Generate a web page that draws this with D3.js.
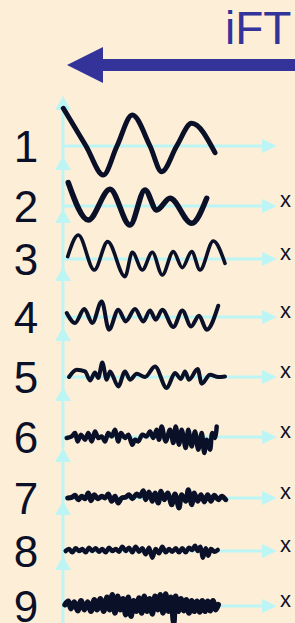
<!DOCTYPE html>
<html><head><meta charset="utf-8">
<script src="https://cdn.jsdelivr.net/npm/d3@7"></script>
<style>html,body{margin:0;padding:0;background:#fdeed8;overflow:hidden}</style>
</head><body><svg id="c" width="295" height="623"></svg>
<script>
// ---------- data ----------
const title = "iFT";
const rowLabels = ["1","2","3","4","5","6","7","8","9"];
const axisLabel = "x";
const showAxisLabel = [false,true,true,true,true,true,true,true,true];
// each wave: [position along x axis, amplitude]
const wave1 = [[0.3,37.7],[23,0],[40.3,-29],[54,0],[69.3,31],[87,0],[98.7,-25.7],[113.7,0],[128.7,22.7],[152,-6.7]];
const wave2 = [[5.3,23.3],[25.3,-14],[47,16.7],[67,-19],[82,16],[93.7,-4],[107,7.7],[128.7,-17.3],[143.7,7.7]];
const wave3 = [[4.7,2.4],[15.3,24],[31.3,-11],[44.7,17.4],[62,-17.6],[69.3,6.7],[79.3,-11],[89.3,6.7],[99.3,-16],[110.3,7.4],[119.3,-8.6],[128.7,7.4],[137,-11],[150.3,18],[162,-4.3]];
const wave4 = [[3.7,4],[12,-6],[21.3,8],[29.3,-6],[38.7,15.6],[46,-12.7],[55.3,7.3],[62.7,-4.4],[72,8],[80.3,-4.4],[87,6.6],[92.7,-2.7],[99.3,7.3],[110.3,-10],[119.3,6.6],[128,-9.4],[136,1.3],[143.7,-12.7],[155.3,11.3]];
const wave5 = [[6,0],[13.7,7.3],[22,5.6],[27,-3.4],[32,4.6],[35.3,-1],[39.3,14.6],[43.7,-2.7],[47,5.6],[55.3,-9.4],[62,5.6],[67,-2.7],[73.7,3.3],[82,0],[92,10.6],[103.7,-11],[112,4],[118,-2],[122,5.6],[126,-2.7],[134.7,8],[138.7,-6.7],[147,2.3],[155.3,0],[162,0.6]];
const wave6 = [[3.7,-1],[8.7,0.6],[12,4],[14.7,-4.4],[18,2.3],[22,-2.7],[25.3,4],[28.7,-4.4],[32,5.6],[35.3,-1],[38.7,0.6],[42,-4.4],[45.3,4],[48.7,0.6],[52,7.3],[55.3,-4.4],[58,4],[62,-1],[65.3,2.3],[69.3,-7.7],[72,-2.7],[75.3,-4.4],[79.3,2.3],[83.7,0.6],[87,5.6],[90.3,-1],[93.7,7.3],[96,-2.7],[98.7,10.6],[102.7,-4.4],[107,7.3],[110.3,-6],[112.7,10.6],[116,-7.7],[118.7,7.3],[122.7,-11],[125.3,7.3],[128.7,-9.4],[132,5.6],[135.3,-12.7],[138.7,4],[141.3,-16],[143.7,-2.7],[147,-12.7],[149.3,4],[152,-1],[153.7,10.6]];
const wave7 = [[4.7,0],[8.7,0.7],[12,2.7],[15.3,-1.7],[18.7,1.7],[22,-0.7],[25.3,5],[28,-2.7],[31.3,3.3],[34.7,-0.7],[38.7,1.7],[42,0],[45.3,4],[48.7,-3.3],[52,1.7],[55.3,-5],[58.7,0],[62.7,0.7],[66,3.3],[69.3,-0.7],[73.7,4],[77,1.7],[80.3,7.3],[82.7,-1.7],[86,6],[89.3,-3.3],[92,5],[95.3,-5],[98,6.7],[101.3,-1.7],[104.7,5],[108.7,-6.7],[112,4],[116,-10],[118.7,3.3],[122.7,-3.3],[125.3,8.3],[128.7,-6.7],[131.3,5],[134.7,-3.3],[138,3.3],[141.3,-4],[144.7,3.3],[148,-3.3],[151.3,2.7],[155.3,-1.7],[158.7,1.7],[162.7,-1.7]];
const wave8 = [[2.7,0],[6,2],[9.3,-1.3],[12.7,2.7],[16,0],[19.3,2],[22.7,-1.3],[26,3.3],[29.3,0],[32.7,2.7],[36,-0.7],[39.3,2],[42.7,-1.3],[46,3.3],[49.3,0],[52.7,2],[56,-0.7],[59.3,4.3],[62.7,0],[66,3.3],[69.3,-1.3],[72.7,4.3],[76,-0.7],[79.3,2.7],[82.7,-3.3],[86,3.3],[89.3,-6.7],[92.7,2],[96,-2.3],[99.3,4.3],[102.7,-1.3],[106,2],[109.3,-0.7],[112.7,2.7],[116,-1.3],[119.3,2.7],[122.7,-1.3],[126,3.3],[129.3,1],[132,5.3],[134.7,0],[137.3,4.3],[140,-6.7],[142.7,2.7],[145.3,-4.7],[148,2],[151.3,-0.7],[154.7,1]];
const wave9 = [[2,1.3],[5.3,4.7],[8,-2.7],[11.3,4],[14.7,-4.7],[18,5.3],[21.3,-3.7],[24.7,4],[28,-5.3],[31.3,6.3],[34,-3.7],[37.3,7.3],[40.7,-5.3],[44,8.7],[46.7,-3.7],[49.3,11.3],[52,-7],[54.7,9.7],[57.3,-3.7],[60,7.3],[62.7,-8.7],[65.3,8.7],[68,-10.3],[70.7,5.3],[73.3,-5.3],[76,8],[78.7,-7],[81.3,9.7],[84,-5.3],[86.7,7.3],[89.3,-8],[92,9.7],[94.7,-3.7],[97.3,11.3],[100,-7],[102.7,12],[105.3,-5.3],[108,8.7],[110.7,-17],[112.7,9.7],[115.3,-5.3],[118,7.3],[120.7,-4.7],[123.3,6.3],[126,-7],[128.7,5.3],[131.3,-5.3],[134,4.7],[136.7,-6],[139.3,5.3],[142,-5.3],[144.7,4.7],[147.3,-4.7],[150,5.3],[152.7,-3.7],[155.3,1.3]];
const waves = [wave1,wave2,wave3,wave4,wave5,wave6,wave7,wave8,wave9];

// ---------- layout / style ----------
const rowY = [146,206,259,317,377,437,498,551,606];
const strokeW = [5,5.5,3.6,4,4,4.5,5,4.5,5.5];
const smooth = [true,true,true,true,true,false,false,false,false];
const ink = "#0a1028", axisCol = "#bdf5f5", navy = "#333399";

const svg = d3.select("#c");
svg.append("rect").attr("width",295).attr("height",623).attr("fill","#fdeed8");

const x = d3.scaleLinear().domain([0,214]).range([63,277]);
const y = d3.scaleLinear().domain([-40,40]).range([40,-40]);

// title + big arrow
svg.append("text").attr("x",225).attr("y",44).attr("font-family","Liberation Sans, Arial, sans-serif")
  .attr("font-size",46).attr("fill",navy).text(title);
svg.append("rect").attr("x",100).attr("y",59).attr("width",200).attr("height",12).attr("fill",navy);
svg.append("path").attr("d","M67,65 L103,47 L103,83 Z").attr("fill",navy);

const rows = svg.selectAll("g.row").data(waves).join("g").attr("class","row")
  .attr("transform",(d,i)=>`translate(0,${rowY[i]})`);

// axes
rows.each(function(d,i){
  const g = d3.select(this);
  const bottom = i===8 ? 30 : 12;
  g.append("line").attr("x1",x(0)).attr("x2",x(0)).attr("y1",y(-bottom)).attr("y2",y(40))
    .attr("stroke",axisCol).attr("stroke-width",3);
  g.append("path").attr("d",`M${x(0)},${y(50)} L${x(0)-8},${y(36)} L${x(0)+8},${y(36)} Z`).attr("fill",axisCol);
  g.append("line").attr("x1",x(0)).attr("x2",x(200)).attr("y1",y(0)).attr("y2",y(0))
    .attr("stroke",axisCol).attr("stroke-width",3);
  g.append("path").attr("d",`M${x(214)},${y(0)} L${x(199)},${y(7)} L${x(199)},${y(-7)} Z`).attr("fill",axisCol);
  if(showAxisLabel[i]) g.append("text").attr("x",280).attr("y",1).attr("font-family","Liberation Sans, Arial, sans-serif")
    .attr("font-size",22).attr("fill",ink).text(axisLabel);
  g.append("text").attr("x",26).attr("y",16).attr("text-anchor","middle")
    .attr("font-family","Liberation Sans, Arial, sans-serif").attr("font-size",44).attr("fill",ink).text(rowLabels[i]);
});

// waves
rows.append("path")
  .attr("d",(d,i)=>d3.line().x(p=>x(p[0])).y(p=>y(p[1]))
      .curve(smooth[i]?d3.curveMonotoneX:d3.curveCatmullRom.alpha(0.5))(d))
  .attr("fill","none").attr("stroke",ink).attr("stroke-width",(d,i)=>strokeW[i])
  .attr("stroke-linecap","round").attr("stroke-linejoin","round");
</script></body></html>
